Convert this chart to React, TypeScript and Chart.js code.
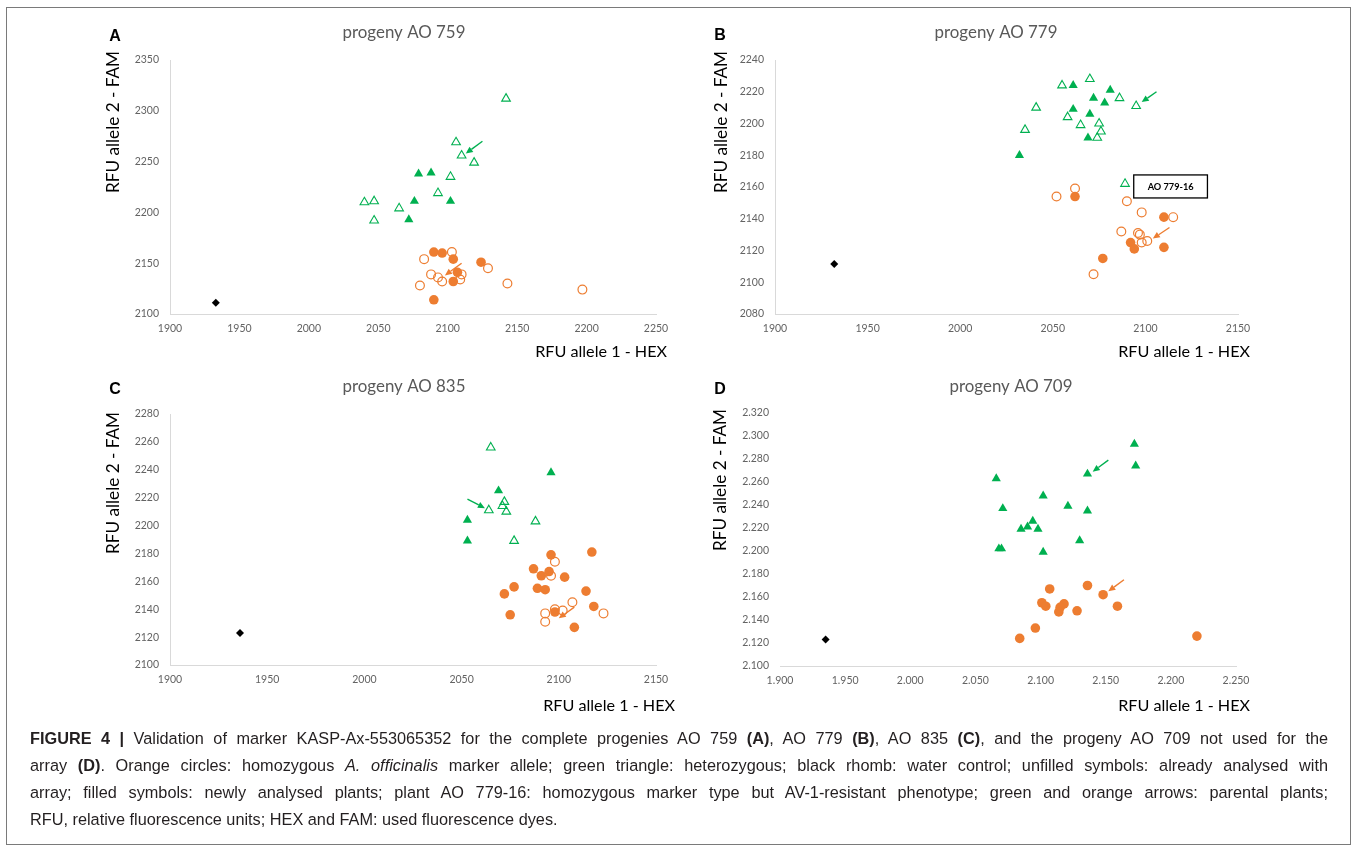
import React, { useEffect, useRef } from "react";
import { Chart, registerables } from "chart.js";

Chart.register(...registerables);

type Pt = [number, number];

const GREEN = "#00B050";
const ORANGE = "#ED7D31";
const TICK_GRAY = "#636363";
const TITLE_GRAY = "#595959";
const AXIS_GRAY = "#D9D9D9";

// ---------------- Panel A : progeny AO 759 ----------------
const A_xRange = [1900, 2250];
const A_yRange = [2100, 2350];
const A_xStep = 50;
const A_yStep = 50;
const A_openTriangles: Pt[] = [
  [2142, 2312], [2106, 2269], [2110, 2256], [2119, 2249], [2102, 2235],
  [2093, 2219], [2040, 2210], [2047, 2211], [2065, 2204], [2047, 2192],
];
const A_filledTriangles: Pt[] = [
  [2079, 2238], [2088, 2239], [2076, 2211], [2102, 2211], [2072, 2193],
];
const A_openCircles: Pt[] = [
  [2103, 2161], [2083, 2154], [2088, 2139], [2093, 2136], [2096, 2132],
  [2110, 2139], [2109, 2134], [2129, 2145], [2143, 2130], [2197, 2124], [2080, 2128],
];
const A_filledCircles: Pt[] = [
  [2090, 2161], [2096, 2160], [2104, 2154], [2124, 2151], [2107, 2141], [2104, 2132], [2090, 2114],
];
const A_water: Pt[] = [[1933, 2111]];
const A_greenArrow: Pt[] = [[2125, 2270], [2113, 2258]];
const A_orangeArrow: Pt[] = [[2110, 2150], [2098, 2138]];

// ---------------- Panel B : progeny AO 779 ----------------
const B_xRange = [1900, 2150];
const B_yRange = [2080, 2240];
const B_xStep = 50;
const B_yStep = 20;
const B_openTriangles: Pt[] = [
  [2055, 2224], [2070, 2228], [2086, 2216], [2095, 2211], [2041, 2210], [2058, 2204],
  [2065, 2199], [2075, 2200], [2076, 2195], [2074, 2191], [2035, 2196], [2089, 2162],
];
const B_filledTriangles: Pt[] = [
  [2061, 2224], [2081, 2221], [2072, 2216], [2078, 2213], [2061, 2209], [2070, 2206],
  [2069, 2191], [2032, 2180],
];
const B_openCircles: Pt[] = [
  [2062, 2159], [2052, 2154], [2090, 2151], [2098, 2144], [2115, 2141], [2087, 2132],
  [2096, 2131], [2097, 2130], [2101, 2126], [2098, 2125], [2072, 2105],
];
const B_filledCircles: Pt[] = [
  [2062, 2154], [2110, 2141], [2092, 2125], [2094, 2121], [2110, 2122], [2077, 2115],
];
const B_water: Pt[] = [[1932, 2111.5]];
const B_greenArrow: Pt[] = [[2106, 2220], [2098, 2213.5]];
const B_orangeArrow: Pt[] = [[2113, 2134.5], [2104, 2127.5]];
const B_noteText = "AO 779-16";
const B_noteBox: Pt[] = [[2093.7, 2167.6], [2133.5, 2153.1]];

// ---------------- Panel C : progeny AO 835 ----------------
const C_xRange = [1900, 2150];
const C_yRange = [2100, 2280];
const C_xStep = 50;
const C_yStep = 20;
const C_openTriangles: Pt[] = [
  [2065, 2256], [2072, 2217], [2071, 2214], [2073, 2210], [2064, 2211], [2088, 2203], [2077, 2189],
];
const C_filledTriangles: Pt[] = [
  [2096, 2238], [2069, 2225], [2053, 2204], [2053, 2189],
];
const C_openCircles: Pt[] = [
  [2098, 2174], [2096, 2164], [2107, 2145], [2102, 2139], [2093, 2137], [2093, 2131],
  [2123, 2137], [2098, 2140],
];
const C_filledCircles: Pt[] = [
  [2096, 2179], [2117, 2181], [2087, 2169], [2091, 2164], [2095, 2167], [2103, 2163],
  [2077, 2156], [2072, 2151], [2089, 2155], [2093, 2154], [2114, 2153], [2118, 2142],
  [2098, 2138], [2075, 2136], [2108, 2127],
];
const C_water: Pt[] = [[1936, 2123]];
const C_greenArrow: Pt[] = [[2053, 2219], [2062, 2212.5]];
const C_orangeArrow: Pt[] = [[2108, 2141.5], [2100, 2133.5]];

// ---------------- Panel D : progeny AO 709 ----------------
const D_xRange = [1900, 2250];
const D_yRange = [2100, 2320];
const D_xStep = 50;
const D_yStep = 20;
const D_openTriangles: Pt[] = [];
const D_filledTriangles: Pt[] = [
  [2172, 2293], [2173, 2274], [2136, 2267], [2066, 2263], [2102, 2248], [2121, 2239],
  [2071, 2237], [2136, 2235], [2094, 2226], [2090, 2221], [2098, 2219], [2085, 2219],
  [2130, 2209], [2068, 2202], [2070, 2202], [2102, 2199],
];
const D_openCircles: Pt[] = [];
const D_filledCircles: Pt[] = [
  [2136, 2170], [2107, 2167], [2148, 2162], [2101, 2155], [2104, 2152], [2118, 2154],
  [2115, 2151], [2114, 2147], [2128, 2148], [2159, 2152], [2096, 2133], [2084, 2124], [2220, 2126],
];
const D_water: Pt[] = [[1935, 2123]];
const D_greenArrow: Pt[] = [[2152, 2279], [2140, 2269]];
const D_orangeArrow: Pt[] = [[2164, 2175], [2152, 2165]];

// ---------------- Texts ----------------
const PANEL_TITLES = ["progeny AO 759", "progeny AO 779", "progeny AO 835", "progeny AO 709"];
const PANEL_LETTERS = ["A", "B", "C", "D"];
const X_TITLE = "RFU allele 1 - HEX";
const Y_TITLE = "RFU allele 2 - FAM";

interface Layout {
  plot: { l: number; t: number; r: number; b: number };
  letter: [number, number];
  title: [number, number];
  yTitle: [number, number];
  xTitle: [number, number]; // right edge, center y
  yBorder: boolean;
  dotted: boolean;
}

interface Spec {
  letter: string;
  title: string;
  xRange: number[];
  yRange: number[];
  xStep: number;
  yStep: number;
  openTri: Pt[];
  fillTri: Pt[];
  openCirc: Pt[];
  fillCirc: Pt[];
  water: Pt[];
  greenArrow: Pt[];
  orangeArrow: Pt[];
  note?: { text: string; box: Pt[] };
  layout: Layout;
}

const SPECS: Spec[] = [
  {
    letter: PANEL_LETTERS[0], title: PANEL_TITLES[0],
    xRange: A_xRange, yRange: A_yRange, xStep: A_xStep, yStep: A_yStep,
    openTri: A_openTriangles, fillTri: A_filledTriangles, openCirc: A_openCircles,
    fillCirc: A_filledCircles, water: A_water, greenArrow: A_greenArrow, orangeArrow: A_orangeArrow,
    layout: {
      plot: { l: 170, t: 60, r: 656, b: 314 },
      letter: [115, 37], title: [404, 33], yTitle: [113, 122], xTitle: [667, 352],
      yBorder: true, dotted: false,
    },
  },
  {
    letter: PANEL_LETTERS[1], title: PANEL_TITLES[1],
    xRange: B_xRange, yRange: B_yRange, xStep: B_xStep, yStep: B_yStep,
    openTri: B_openTriangles, fillTri: B_filledTriangles, openCirc: B_openCircles,
    fillCirc: B_filledCircles, water: B_water, greenArrow: B_greenArrow, orangeArrow: B_orangeArrow,
    note: { text: B_noteText, box: B_noteBox },
    layout: {
      plot: { l: 775, t: 60, r: 1238, b: 314 },
      letter: [720, 36], title: [996, 33], yTitle: [721, 122], xTitle: [1250, 352],
      yBorder: true, dotted: false,
    },
  },
  {
    letter: PANEL_LETTERS[2], title: PANEL_TITLES[2],
    xRange: C_xRange, yRange: C_yRange, xStep: C_xStep, yStep: C_yStep,
    openTri: C_openTriangles, fillTri: C_filledTriangles, openCirc: C_openCircles,
    fillCirc: C_filledCircles, water: C_water, greenArrow: C_greenArrow, orangeArrow: C_orangeArrow,
    layout: {
      plot: { l: 170, t: 414, r: 656, b: 665 },
      letter: [115, 390], title: [404, 387], yTitle: [113, 483], xTitle: [675, 706],
      yBorder: true, dotted: false,
    },
  },
  {
    letter: PANEL_LETTERS[3], title: PANEL_TITLES[3],
    xRange: D_xRange, yRange: D_yRange, xStep: D_xStep, yStep: D_yStep,
    openTri: D_openTriangles, fillTri: D_filledTriangles, openCirc: D_openCircles,
    fillCirc: D_filledCircles, water: D_water, greenArrow: D_greenArrow, orangeArrow: D_orangeArrow,
    layout: {
      plot: { l: 780, t: 413, r: 1236, b: 666 },
      letter: [720, 390], title: [1011, 387], yTitle: [720, 480], xTitle: [1250, 706],
      yBorder: false, dotted: true,
    },
  },
];

const W = 1360;
const H = 854;
const Y_AXIS_W = 50;
const X_AXIS_H = 30;
const CHART_FONT = "Lato, 'Open Sans', sans-serif";

function fitSize(ctx: CanvasRenderingContext2D, text: string, target: number, family: string, weight: string) {
  ctx.font = `${weight} 100px ${family}`;
  const w = ctx.measureText(text).width;
  return (100 * target) / w;
}

function dotFormat(v: number) {
  const s = String(Math.round(v));
  return s.slice(0, s.length - 3) + "." + s.slice(s.length - 3);
}

function drawArrow(ctx: CanvasRenderingContext2D, x1: number, y1: number, x2: number, y2: number, color: string) {
  const ang = Math.atan2(y2 - y1, x2 - x1);
  const hl = 7;
  const hw = 3.2;
  const bx = x2 - hl * Math.cos(ang);
  const by = y2 - hl * Math.sin(ang);
  ctx.save();
  ctx.strokeStyle = color;
  ctx.fillStyle = color;
  ctx.lineWidth = 1.4;
  ctx.beginPath();
  ctx.moveTo(x1, y1);
  ctx.lineTo(bx, by);
  ctx.stroke();
  ctx.beginPath();
  ctx.moveTo(x2, y2);
  ctx.lineTo(bx + hw * Math.sin(ang), by - hw * Math.cos(ang));
  ctx.lineTo(bx - hw * Math.sin(ang), by + hw * Math.cos(ang));
  ctx.closePath();
  ctx.fill();
  ctx.restore();
}

function makePlugin(spec: Spec) {
  return {
    id: "panelDecor" + spec.letter,
    afterDraw(chart: any) {
      const ctx: CanvasRenderingContext2D = chart.ctx;
      const xs = chart.scales.x;
      const ys = chart.scales.y;
      const L = spec.layout;
      const px = (p: Pt) => [xs.getPixelForValue(p[0]), ys.getPixelForValue(p[1])];

      const g1 = px(spec.greenArrow[0]);
      const g2 = px(spec.greenArrow[1]);
      drawArrow(ctx, g1[0], g1[1], g2[0], g2[1], GREEN);
      const o1 = px(spec.orangeArrow[0]);
      const o2 = px(spec.orangeArrow[1]);
      drawArrow(ctx, o1[0], o1[1], o2[0], o2[1], ORANGE);

      if (spec.note) {
        const a = px(spec.note.box[0]);
        const b = px(spec.note.box[1]);
        ctx.save();
        ctx.fillStyle = "#fff";
        ctx.fillRect(a[0], a[1], b[0] - a[0], b[1] - a[1]);
        ctx.strokeStyle = "#000";
        ctx.lineWidth = 1.3;
        ctx.strokeRect(a[0], a[1], b[0] - a[0], b[1] - a[1]);
        const sz = fitSize(ctx, spec.note.text, 46, CHART_FONT, "bold");
        ctx.font = `bold ${sz}px ${CHART_FONT}`;
        ctx.fillStyle = "#000";
        ctx.textAlign = "center";
        ctx.textBaseline = "middle";
        ctx.fillText(spec.note.text, (a[0] + b[0]) / 2, (a[1] + b[1]) / 2 + 0.5);
        ctx.restore();
      }

      ctx.save();
      ctx.font = `bold 16px "Liberation Sans", Arial, sans-serif`;
      ctx.fillStyle = "#000";
      ctx.textAlign = "center";
      ctx.textBaseline = "middle";
      ctx.fillText(spec.letter, L.letter[0], L.letter[1]);

      let sz = fitSize(ctx, spec.title, 123, CHART_FONT, "normal");
      ctx.font = `normal ${sz}px ${CHART_FONT}`;
      ctx.fillStyle = TITLE_GRAY;
      ctx.textAlign = "center";
      ctx.fillText(spec.title, L.title[0], L.title[1]);

      sz = fitSize(ctx, X_TITLE, 132, CHART_FONT, "normal");
      ctx.font = `normal ${sz}px ${CHART_FONT}`;
      ctx.fillStyle = "#000";
      ctx.textAlign = "right";
      ctx.fillText(X_TITLE, L.xTitle[0], L.xTitle[1]);

      sz = fitSize(ctx, Y_TITLE, 142, CHART_FONT, "normal");
      ctx.font = `normal ${sz}px ${CHART_FONT}`;
      ctx.translate(L.yTitle[0], L.yTitle[1]);
      ctx.rotate(-Math.PI / 2);
      ctx.textAlign = "center";
      ctx.fillText(Y_TITLE, 0, 0);
      ctx.restore();
    },
  };
}

function buildConfig(spec: Spec): any {
  const L = spec.layout;
  const toXY = (a: Pt[]) => a.map(([x, y]) => ({ x, y }));
  const tickFont = { family: CHART_FONT, size: 10.5 };
  const fmt = (v: any) => (L.dotted ? dotFormat(Number(v)) : String(v));
  return {
    type: "scatter",
    data: {
      datasets: [
        {
          data: toXY(spec.water), pointStyle: "rectRot", pointRadius: 4,
          pointBackgroundColor: "#000", pointBorderColor: "#000", pointBorderWidth: 0,
        },
        {
          data: toXY(spec.openCirc), pointStyle: "circle", pointRadius: 4.4,
          pointBackgroundColor: "rgba(255,255,255,0)", pointBorderColor: ORANGE, pointBorderWidth: 1.2,
        },
        {
          data: toXY(spec.fillCirc), pointStyle: "circle", pointRadius: 4.8,
          pointBackgroundColor: ORANGE, pointBorderColor: ORANGE, pointBorderWidth: 0,
        },
        {
          data: toXY(spec.openTri), pointStyle: "triangle", pointRadius: 5,
          pointBackgroundColor: "rgba(255,255,255,0)", pointBorderColor: GREEN, pointBorderWidth: 1.1,
        },
        {
          data: toXY(spec.fillTri), pointStyle: "triangle", pointRadius: 5.3,
          pointBackgroundColor: GREEN, pointBorderColor: GREEN, pointBorderWidth: 0,
        },
      ],
    },
    options: {
      animation: false,
      responsive: false,
      maintainAspectRatio: false,
      events: [],
      layout: {
        padding: {
          left: L.plot.l - Y_AXIS_W,
          top: L.plot.t,
          right: W - L.plot.r,
          bottom: H - L.plot.b - X_AXIS_H,
        },
      },
      plugins: { legend: { display: false }, tooltip: { enabled: false }, title: { display: false } },
      scales: {
        x: {
          type: "linear",
          min: spec.xRange[0],
          max: spec.xRange[1],
          ticks: {
            stepSize: spec.xStep, color: TICK_GRAY, font: tickFont, padding: 8,
            maxRotation: 0, autoSkip: false, callback: fmt,
          },
          grid: { display: false, drawTicks: false },
          border: { display: true, color: AXIS_GRAY, width: 1 },
          afterFit: (sc: any) => { sc.height = X_AXIS_H; },
        },
        y: {
          type: "linear",
          min: spec.yRange[0],
          max: spec.yRange[1],
          ticks: {
            stepSize: spec.yStep, color: TICK_GRAY, font: tickFont, padding: 11,
            autoSkip: false, callback: fmt,
          },
          grid: { display: false, drawTicks: false },
          border: { display: L.yBorder, color: AXIS_GRAY, width: 1 },
          afterFit: (sc: any) => { sc.width = Y_AXIS_W; },
        },
      },
    },
    plugins: [makePlugin(spec)],
  };
}

function Panel({ spec }: { spec: Spec }) {
  const ref = useRef<HTMLCanvasElement | null>(null);
  useEffect(() => {
    if (!ref.current) return;
    const chart = new Chart(ref.current, buildConfig(spec));
    return () => chart.destroy();
  }, [spec]);
  return (
    <canvas
      ref={ref}
      width={W}
      height={H}
      style={{ position: "absolute", left: 0, top: 0, width: W, height: H, pointerEvents: "none" }}
    />
  );
}

const CAPTION_FONT = '16.3px "Liberation Sans", Arial, sans-serif';

function Caption() {
  const lineStyle = (top: number, justify: boolean): React.CSSProperties => ({
    position: "absolute",
    left: 30,
    top,
    width: 1298,
    height: 27,
    lineHeight: "27px",
    font: CAPTION_FONT,
    color: "#231F20",
    whiteSpace: "nowrap",
    textAlign: justify ? "justify" : "left",
    textAlignLast: justify ? "justify" : "left",
  } as React.CSSProperties);
  return (
    <>
      <div style={lineStyle(729, true)}>
        <b>FIGURE 4 |</b> Validation of marker KASP-Ax-553065352 for the complete progenies AO 759 <b>(A)</b>, AO 779 <b>(B)</b>, AO 835 <b>(C)</b>, and the progeny AO 709 not used for the
      </div>
      <div style={lineStyle(756, true)}>
        array <b>(D)</b>. Orange circles: homozygous <i>A. officinalis</i> marker allele; green triangle: heterozygous; black rhomb: water control; unfilled symbols: already analysed with
      </div>
      <div style={lineStyle(783, true)}>
        array; filled symbols: newly analysed plants; plant AO 779-16: homozygous marker type but AV-1-resistant phenotype; green and orange arrows: parental plants;
      </div>
      <div style={lineStyle(810, false)}>
        RFU, relative fluorescence units; HEX and FAM: used fluorescence dyes.
      </div>
    </>
  );
}

export default function App() {
  return (
    <div style={{ position: "absolute", left: 0, top: 0, width: W, height: H, background: "#fff", overflow: "hidden" }}>
      <div
        style={{
          position: "absolute", left: 6, top: 7, width: 1345, height: 838,
          border: "1px solid #7a7a7a", boxSizing: "border-box",
        }}
      />
      {SPECS.map((s) => (
        <Panel key={s.letter} spec={s} />
      ))}
      <Caption />
    </div>
  );
}
